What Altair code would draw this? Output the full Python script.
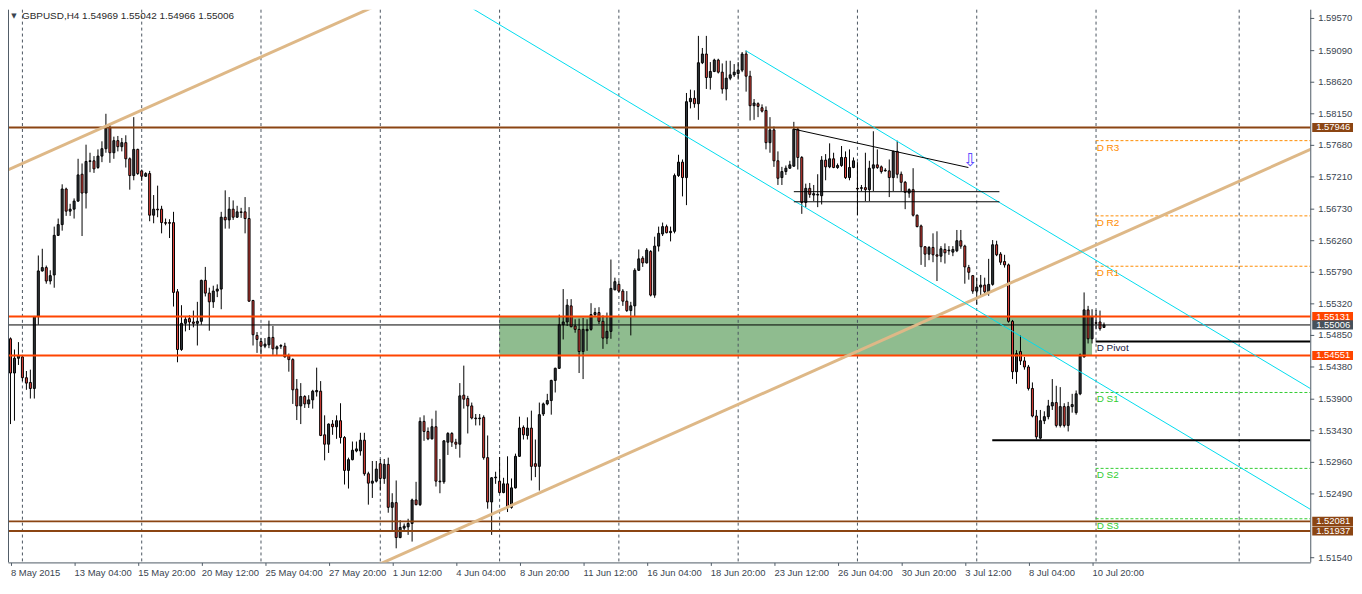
import altair as alt
import pandas as pd

# ---------------- data (H4 GBPUSD) ----------------
opens = [
1.5480,1.5429,1.5451,1.5453,1.5422,1.5415,1.5406,1.5513,1.5581,1.5586,
1.5566,1.5575,1.5634,1.5650,1.5703,1.5670,1.5673,1.5685,1.5725,1.5697,
1.5744,1.5745,1.5735,1.5752,1.5763,1.5795,1.5757,1.5775,1.5766,1.5772,
1.5748,1.5723,1.5762,1.5730,1.5722,1.5726,1.5664,1.5673,1.5673,1.5653,
1.5653,1.5653,1.5550,1.5464,1.5503,1.5510,1.5505,1.5503,1.5506,1.5567,
1.5548,1.5535,1.5551,1.5554,1.5661,1.5657,1.5673,1.5661,1.5669,1.5669,
1.5659,1.5537,1.5485,1.5476,1.5469,1.5471,1.5482,1.5465,1.5469,1.5469,
1.5455,1.5449,1.5405,1.5380,1.5394,1.5383,1.5389,1.5401,1.5402,1.5337,
1.5323,1.5353,1.5349,1.5358,1.5333,1.5284,1.5300,1.5313,1.5313,1.5329,
1.5279,1.5265,1.5268,1.5294,1.5272,1.5293,1.5229,1.5236,1.5184,1.5198,
1.5200,1.5205,1.5240,1.5233,1.5357,1.5342,1.5331,1.5349,1.5267,1.5267,
1.5326,1.5339,1.5326,1.5323,1.5396,1.5391,1.5380,1.5362,1.5361,1.5363,
1.5303,1.5237,1.5273,1.5268,1.5251,1.5264,1.5229,1.5258,1.5305,1.5348,
1.5336,1.5347,1.5294,1.5290,1.5368,1.5383,1.5388,1.5418,1.5436,1.5501,
1.5505,1.5529,1.5499,1.5494,1.5461,1.5492,1.5494,1.5516,1.5519,1.5506,
1.5481,1.5491,1.5553,1.5561,1.5551,1.5536,1.5522,1.5529,1.5582,1.5600,
1.5593,1.5610,1.5545,1.5618,1.5636,1.5647,1.5638,1.5640,1.5723,1.5743,
1.5720,1.5833,1.5838,1.5830,1.5891,1.5904,1.5869,1.5878,1.5895,1.5877,
1.5852,1.5868,1.5873,1.5875,1.5880,1.5904,1.5871,1.5827,1.5830,1.5824,
1.5820,1.5772,1.5791,1.5745,1.5720,1.5729,1.5734,1.5737,1.5792,1.5750,
1.5683,1.5704,1.5694,1.5694,1.5693,1.5746,1.5736,1.5748,1.5735,1.5738,
1.5750,1.5720,1.5735,1.5704,1.5704,1.5705,1.5702,1.5734,1.5739,1.5736,
1.5730,1.5730,1.5720,1.5759,1.5725,1.5713,1.5697,1.5702,1.5664,1.5648,
1.5617,1.5606,1.5616,1.5605,1.5603,1.5613,1.5611,1.5609,1.5611,1.5626,
1.5618,1.5586,1.5574,1.5551,1.5557,1.5560,1.5550,1.5561,1.5620,1.5606,
1.5595,1.5590,1.5506,1.5431,1.5461,1.5447,1.5438,1.5406,1.5365,1.5332,
1.5358,1.5364,1.5380,1.5385,1.5351,1.5379,1.5351,1.5379,1.5370,1.5398,
1.5453,1.5523,1.5480,1.5504,1.5505,1.54969]

highs = [
1.5482,1.5464,1.5475,1.5456,1.5432,1.5434,1.5514,1.5604,1.5614,1.5589,
1.5582,1.5647,1.5659,1.5710,1.5705,1.5681,1.5689,1.5748,1.5741,1.5769,
1.5757,1.5752,1.5762,1.5774,1.5815,1.5801,1.5781,1.5782,1.5779,1.5783,
1.5750,1.5810,1.5763,1.5732,1.5728,1.5730,1.5694,1.5708,1.5678,1.5659,
1.5658,1.5669,1.5554,1.5530,1.5514,1.5515,1.5522,1.5535,1.5568,1.5587,
1.5556,1.5559,1.5561,1.5669,1.5701,1.5691,1.5686,1.5678,1.5675,1.5691,
1.5676,1.5538,1.5490,1.5481,1.5481,1.5507,1.5499,1.5470,1.5472,1.5474,
1.5458,1.5451,1.5420,1.5414,1.5396,1.5396,1.5404,1.5437,1.5417,1.5366,
1.5354,1.5359,1.5366,1.5384,1.5335,1.5303,1.5327,1.5327,1.5340,1.5340,
1.5282,1.5298,1.5298,1.5301,1.5301,1.5303,1.5250,1.5269,1.5210,1.5205,
1.5212,1.5242,1.5267,1.5363,1.5366,1.5348,1.5361,1.5373,1.5301,1.5329,
1.5341,1.5341,1.5331,1.5414,1.5440,1.5395,1.5385,1.5368,1.5368,1.5366,
1.5336,1.5274,1.5282,1.5304,1.5273,1.5305,1.5272,1.5309,1.5364,1.5351,
1.5363,1.5373,1.5330,1.5385,1.5385,1.5398,1.5419,1.5437,1.5516,1.5554,
1.5539,1.5539,1.5509,1.5510,1.5511,1.5509,1.5533,1.5526,1.5527,1.5515,
1.5519,1.5598,1.5571,1.5566,1.5554,1.5551,1.5535,1.5585,1.5613,1.5603,
1.5615,1.5612,1.5632,1.5647,1.5653,1.5650,1.5647,1.5726,1.5754,1.5747,
1.5846,1.5851,1.5850,1.5931,1.5913,1.5931,1.5892,1.5897,1.5897,1.5890,
1.5894,1.5894,1.5889,1.5892,1.5907,1.5909,1.5879,1.5837,1.5832,1.5829,
1.5826,1.5810,1.5796,1.5759,1.5736,1.5738,1.5745,1.5803,1.5795,1.5752,
1.5711,1.5712,1.5709,1.5725,1.5752,1.5755,1.5771,1.5757,1.5741,1.5767,
1.5759,1.5762,1.5750,1.5743,1.5709,1.5757,1.5745,1.5789,1.5762,1.5738,
1.5734,1.5747,1.5760,1.5775,1.5729,1.5715,1.5704,1.5734,1.5665,1.5650,
1.5618,1.5618,1.5637,1.5640,1.5618,1.5622,1.5618,1.5618,1.5642,1.5642,
1.5620,1.5590,1.5575,1.5571,1.5575,1.5571,1.5599,1.5627,1.5626,1.5609,
1.5605,1.5592,1.5508,1.5463,1.5485,1.5453,1.5441,1.5415,1.5374,1.5374,
1.5372,1.5389,1.5420,1.5410,1.5408,1.5384,1.5386,1.5398,1.5403,1.5458,
1.5549,1.5529,1.5524,1.5523,1.5522,1.55042]

lows = [
1.5353,1.5358,1.5441,1.5417,1.5404,1.5391,1.5391,1.5501,1.5580,1.5562,
1.5561,1.5556,1.5633,1.5641,1.5663,1.5663,1.5659,1.5684,1.5633,1.5674,
1.5728,1.5727,1.5733,1.5743,1.5757,1.5742,1.5748,1.5759,1.5759,1.5735,
1.5702,1.5716,1.5724,1.5715,1.5721,1.5655,1.5652,1.5661,1.5637,1.5649,
1.5630,1.5528,1.5445,1.5462,1.5491,1.5493,1.5497,1.5470,1.5501,1.5543,
1.5492,1.5526,1.5542,1.5524,1.5644,1.5644,1.5657,1.5660,1.5660,1.5637,
1.5535,1.5470,1.5459,1.5457,1.5466,1.5466,1.5456,1.5455,1.5465,1.5452,
1.5431,1.5383,1.5359,1.5353,1.5377,1.5377,1.5376,1.5394,1.5335,1.5299,
1.5310,1.5337,1.5331,1.5324,1.5263,1.5257,1.5299,1.5311,1.5306,1.5276,
1.5233,1.5243,1.5266,1.5254,1.5264,1.5221,1.5195,1.5168,1.5183,1.5195,
1.5188,1.5178,1.5232,1.5231,1.5328,1.5329,1.5330,1.5260,1.5250,1.5264,
1.5307,1.5319,1.5316,1.5303,1.5376,1.5339,1.5360,1.5351,1.5351,1.5300,
1.5227,1.5188,1.5264,1.5250,1.5250,1.5222,1.5227,1.5257,1.5304,1.5330,
1.5330,1.5269,1.5274,1.5254,1.5365,1.5381,1.5367,1.5400,1.5435,1.5479,
1.5499,1.5497,1.5489,1.5429,1.5420,1.5462,1.5492,1.5514,1.5502,1.5465,
1.5472,1.5480,1.5552,1.5549,1.5529,1.5520,1.5485,1.5513,1.5581,1.5587,
1.5592,1.5543,1.5541,1.5610,1.5633,1.5637,1.5625,1.5637,1.5721,1.5692,
1.5679,1.5823,1.5824,1.5806,1.5889,1.5852,1.5851,1.5877,1.5875,1.5845,
1.5835,1.5865,1.5870,1.5866,1.5877,1.5848,1.5805,1.5806,1.5810,1.5817,
1.5762,1.5757,1.5736,1.5709,1.5709,1.5724,1.5733,1.5736,1.5732,1.5666,
1.5676,1.5690,1.5685,1.5676,1.5680,1.5716,1.5734,1.5734,1.5733,1.5736,
1.5718,1.5716,1.5734,1.5664,1.5700,1.5685,1.5685,1.5700,1.5733,1.5726,
1.5729,1.5691,1.5700,1.5719,1.5700,1.5673,1.5690,1.5662,1.5646,1.5590,
1.5587,1.5597,1.5594,1.5566,1.5594,1.5592,1.5605,1.5603,1.5609,1.5614,
1.5562,1.5568,1.5547,1.5531,1.5544,1.5547,1.5544,1.5559,1.5603,1.5590,
1.5586,1.5504,1.5420,1.5413,1.5441,1.5434,1.5403,1.5363,1.5330,1.5330,
1.5353,1.5360,1.5374,1.5348,1.5348,1.5348,1.5342,1.5370,1.5367,1.5396,
1.5452,1.5473,1.5473,1.5494,1.5492,1.54966]

closes = [
1.5429,1.5451,1.5455,1.5422,1.5414,1.5406,1.5513,1.5581,1.5586,1.5566,
1.5574,1.5634,1.5650,1.5703,1.5670,1.5673,1.5685,1.5724,1.5697,1.5744,
1.5745,1.5733,1.5752,1.5763,1.5795,1.5757,1.5775,1.5766,1.5772,1.5748,
1.5723,1.5762,1.5726,1.5722,1.5726,1.5664,1.5673,1.5672,1.5653,1.5652,
1.5652,1.5549,1.5464,1.5503,1.5509,1.5505,1.5503,1.5506,1.5567,1.5548,
1.5535,1.5551,1.5554,1.5661,1.5657,1.5673,1.5661,1.5669,1.5668,1.5659,
1.5536,1.5486,1.5479,1.5469,1.5472,1.5482,1.5465,1.5468,1.5470,1.5453,
1.5449,1.5404,1.5380,1.5394,1.5383,1.5389,1.5402,1.5403,1.5336,1.5323,
1.5353,1.5349,1.5358,1.5333,1.5284,1.5300,1.5314,1.5316,1.5329,1.5279,
1.5265,1.5268,1.5286,1.5272,1.5293,1.5229,1.5236,1.5184,1.5199,1.5201,
1.5205,1.5240,1.5233,1.5357,1.5342,1.5331,1.5349,1.5268,1.5268,1.5328,
1.5339,1.5326,1.5323,1.5395,1.5390,1.5380,1.5362,1.5361,1.5362,1.5303,
1.5237,1.5273,1.5274,1.5251,1.5264,1.5229,1.5258,1.5305,1.5347,1.5337,
1.5347,1.5290,1.5290,1.5367,1.5383,1.5388,1.5418,1.5436,1.5501,1.5505,
1.5530,1.5498,1.5494,1.5461,1.5494,1.5494,1.5516,1.5519,1.5506,1.5481,
1.5491,1.5555,1.5565,1.5551,1.5536,1.5522,1.5529,1.5582,1.5599,1.5593,
1.5612,1.5545,1.5618,1.5637,1.5647,1.5638,1.5640,1.5723,1.5743,1.5720,
1.5833,1.5838,1.5830,1.5891,1.5904,1.5869,1.5878,1.5895,1.5877,1.5852,
1.5868,1.5873,1.5877,1.5880,1.5904,1.5871,1.5827,1.5831,1.5826,1.5819,
1.5772,1.5791,1.5745,1.5719,1.5729,1.5734,1.5739,1.5792,1.5750,1.5683,
1.5704,1.5695,1.5696,1.5695,1.5746,1.5736,1.5748,1.5735,1.5738,1.5750,
1.5720,1.5735,1.5745,1.5703,1.5705,1.5702,1.5734,1.5739,1.5735,1.5729,
1.5731,1.5720,1.5759,1.5725,1.5713,1.5698,1.5702,1.5664,1.5647,1.5617,
1.5606,1.5616,1.5605,1.5603,1.5614,1.5608,1.5612,1.5613,1.5626,1.5618,
1.5587,1.5579,1.5551,1.5557,1.5560,1.5550,1.5561,1.5620,1.5605,1.5594,
1.5590,1.5506,1.5431,1.5458,1.5447,1.5438,1.5406,1.5365,1.5334,1.5358,
1.5364,1.5380,1.5385,1.5351,1.5379,1.5351,1.5379,1.5382,1.5398,1.5456,
1.5523,1.5480,1.5513,1.5503,1.5495,1.55006]

# time axis labels (every 16 H4 bars)
x_label_bars = [0, 16, 32, 48, 64, 80, 96, 112, 128, 144, 160, 176, 192, 208, 224, 240, 256, 272]
x_labels = ["8 May 2015", "13 May 04:00", "15 May 20:00", "20 May 12:00", "25 May 04:00",
            "27 May 20:00", "1 Jun 12:00", "4 Jun 04:00", "8 Jun 20:00", "11 Jun 12:00",
            "16 Jun 04:00", "18 Jun 20:00", "23 Jun 12:00", "26 Jun 04:00", "30 Jun 20:00",
            "3 Jul 12:00", "8 Jul 04:00", "10 Jul 20:00"]
y_ticks = [1.51540, 1.52490, 1.52960, 1.53430, 1.53900, 1.54380, 1.54850, 1.55320,
           1.55790, 1.56260, 1.56730, 1.57210, 1.57680, 1.58150, 1.58620, 1.59090, 1.59570]
week_bars = [3, 33, 63, 93, 123, 153, 183, 213, 243, 273, 309]

# horizontal levels
h_prices = [1.57946, 1.55131, 1.54551, 1.52081, 1.51937, 1.55006]
h_colors = ["#8b4513", "#ff4500", "#ff4500", "#8b4513", "#8b4513", "#000000"]
h_widths = [2, 2, 2, 2, 2, 1]

# highlighted price labels on the right axis
box_prices = [1.57946, 1.55131, 1.55006, 1.54551, 1.52081, 1.51937]
box_colors = ["#8b4513", "#ff4500", "#46515b", "#ff4500", "#8b4513", "#8b4513"]

# supply/demand zone
zone_bar_start, zone_bar_end = 122.9, 272.0
zone_low, zone_high = 1.54551, 1.55131

# daily pivots
pivot_names = ["D R3", "D R2", "D R1", "D S1", "D S2", "D S3"]
pivot_levels = [1.5775, 1.5663, 1.5588, 1.5400, 1.5287, 1.5212]
pivot_colors = ["#ff8c00", "#ff8c00", "#ff8c00", "#32cd32", "#32cd32", "#32cd32"]
pivot_main = 1.5476
pivot_start = 272.9

# trend lines (bar index, price)
tan_x1 = [-2, 90];   tan_y1 = [1.5728, 1.5137]
tan_x2 = [95, 330];  tan_y2 = [1.5984, 1.5770]
cyan_x1 = [113, 184.9];  cyan_y1 = [1.5983, 1.5909]
cyan_x2 = [330, 330];    cyan_y2 = [1.5215, 1.5395]
blk_x1 = [246.9, 197.0, 197.0, 197.1, 272.9]
blk_y1 = [1.5329, 1.5699, 1.5684, 1.5792, 1.5476]
blk_x2 = [330, 248.7, 248.7, 240.9, 330]
blk_y2 = [1.5329, 1.5699, 1.5684, 1.5735, 1.5476]
blk_w = [2, 1, 1, 1, 2]

arrow_bar, arrow_price = 241.4, 1.5745
header = "GBPUSD,H4  1.54969 1.55042 1.54966 1.55006"

# ---------------- chart ----------------
FONT = "Liberation Sans"
W, H = 1310, 556
AX = "#4f5b66"
LBL = "#3a4550"
xs = alt.Scale(domain=[-0.625, 326.875], nice=False, zero=False)
ys = alt.Scale(domain=[1.5147, 1.5970], nice=False, zero=False)

label_expr = " : ".join(f"datum.value == {b} ? '{t}'" for b, t in zip(x_label_bars, x_labels)) + " : ''"

x_axis = alt.Axis(values=x_label_bars, labelExpr=label_expr, title=None, grid=False,
                  labelAlign="left", labelFlush=False, labelOverlap=False, labelFont=FONT,
                  labelFontSize=9.5, labelColor=LBL, tickSize=3, tickColor=AX,
                  domainColor=AX, labelPadding=2)


def Y(field):
    return alt.Y(field, scale=ys, axis=None)


candles = pd.DataFrame({"bar": list(range(len(opens))), "open": opens, "high": highs,
                        "low": lows, "close": closes})

zone = alt.Chart(pd.DataFrame({"a": [zone_bar_start], "b": [zone_bar_end],
                               "lo": [zone_low], "hi": [zone_high]})).mark_rect(
    color="#8fbc8f").encode(
    x=alt.X("a:Q", scale=xs, axis=x_axis), x2="b:Q",
    y=Y("lo:Q"), y2="hi:Q")

grid = alt.Chart(pd.DataFrame({"bar": week_bars})).mark_rule(
    color="#4b5560", strokeWidth=1, strokeDash=[3, 3]).encode(
    x=alt.X("bar:Q", scale=xs))

wicks = alt.Chart(candles).mark_rule(color="#000000", strokeWidth=1).encode(
    x=alt.X("bar:Q", scale=xs), y=Y("low:Q"), y2="high:Q")

bodies = alt.Chart(candles).transform_calculate(
    x1="datum.bar - 0.25", x2="datum.bar + 0.25",
    fc="datum.close >= datum.open ? '#30363c' : '#e2423a'"
).mark_rect(stroke="#000000", strokeWidth=1).encode(
    x=alt.X("x1:Q", scale=xs), x2="x2:Q",
    y=Y("open:Q"), y2="close:Q",
    fill=alt.Fill("fc:N", scale=None))

hlines = alt.Chart(pd.DataFrame({"p": h_prices, "c": h_colors, "w": h_widths})).mark_rule().encode(
    y=Y("p:Q"),
    color=alt.Color("c:N", scale=None),
    strokeWidth=alt.StrokeWidth("w:Q", scale=None))

piv_df = pd.DataFrame({"name": pivot_names, "p": pivot_levels, "c": pivot_colors,
                       "s": [pivot_start] * len(pivot_names), "e": [330] * len(pivot_names)})
piv_lines = alt.Chart(piv_df).mark_rule(strokeWidth=1, strokeDash=[3, 2], clip=True).encode(
    x=alt.X("s:Q", scale=xs), x2="e:Q", y=Y("p:Q"),
    color=alt.Color("c:N", scale=None))

lab_df = pd.DataFrame({"name": pivot_names + ["D Pivot"], "p": pivot_levels + [pivot_main],
                       "c": pivot_colors + ["#14143a"], "s": [pivot_start] * 7})
piv_labels = alt.Chart(lab_df).mark_text(align="left", baseline="top", dx=1, dy=2,
                                          font=FONT, fontSize=10).encode(
    x=alt.X("s:Q", scale=xs), y=Y("p:Q"),
    text="name:N", color=alt.Color("c:N", scale=None))

tan = alt.Chart(pd.DataFrame({"x1": tan_x1, "y1": tan_y1, "x2": tan_x2, "y2": tan_y2})).mark_rule(
    color="#deb887", strokeWidth=3, clip=True).encode(
    x=alt.X("x1:Q", scale=xs), y=Y("y1:Q"), x2="x2:Q", y2="y2:Q")

cyan = alt.Chart(pd.DataFrame({"x1": cyan_x1, "y1": cyan_y1, "x2": cyan_x2, "y2": cyan_y2})).mark_rule(
    color="#00dcee", strokeWidth=1, clip=True).encode(
    x=alt.X("x1:Q", scale=xs), y=Y("y1:Q"), x2="x2:Q", y2="y2:Q")

blk = alt.Chart(pd.DataFrame({"x1": blk_x1, "y1": blk_y1, "x2": blk_x2, "y2": blk_y2,
                              "w": blk_w})).mark_rule(color="#000000", clip=True).encode(
    x=alt.X("x1:Q", scale=xs), y=Y("y1:Q"), x2="x2:Q", y2="y2:Q",
    strokeWidth=alt.StrokeWidth("w:Q", scale=None))

arrow = alt.Chart(pd.DataFrame({"b": [arrow_bar], "p": [arrow_price], "t": ["⇩"]})).mark_text(
    font="DejaVu Sans", fontSize=18, color="#5a4cff", baseline="middle", align="center").encode(
    x=alt.X("b:Q", scale=xs), y=Y("p:Q"), text="t:N")

# right price scale drawn by hand (every label shown, like MT4)
ytick_df = pd.DataFrame({"p": y_ticks, "t": [f"{v:.5f}" for v in y_ticks]})
y_tick_marks = alt.Chart(ytick_df).mark_rule(color=AX, strokeWidth=1).encode(
    x=alt.value(W), x2=alt.value(W + 4), y=Y("p:Q"))
y_tick_text = alt.Chart(ytick_df).mark_text(align="left", baseline="middle", font=FONT,
                                             fontSize=9.5, color=LBL).encode(
    x=alt.value(W + 8), y=Y("p:Q"), text="t:N")
y_domain = alt.Chart(pd.DataFrame({"k": [0]})).mark_rule(color=AX, strokeWidth=1).encode(
    x=alt.value(W + 0.5), y=alt.value(0), y2=alt.value(H))

box_df = pd.DataFrame({"p": box_prices, "c": box_colors, "t": [f"{v:.5f}" for v in box_prices]})
boxes = alt.Chart(box_df).transform_calculate(
    b1="datum.p - 0.00068", b2="datum.p + 0.00068").mark_rect().encode(
    x=alt.value(W + 2), x2=alt.value(W + 43),
    y=Y("b1:Q"), y2="b2:Q",
    color=alt.Color("c:N", scale=None))
box_text = alt.Chart(box_df).mark_text(align="left", baseline="middle", font=FONT,
                                       fontSize=9.5, color="#ffffff").encode(
    x=alt.value(W + 6), y=Y("p:Q"), text="t:N")

head = alt.Chart(pd.DataFrame({"t": [header]})).mark_text(
    align="left", baseline="middle", font=FONT, fontSize=10, color="#2a2a2a").encode(
    x=alt.value(14), y=alt.value(6), text="t:N")
tri = alt.Chart(pd.DataFrame({"t": ["▼"]})).mark_text(
    align="center", baseline="middle", font="DejaVu Sans", fontSize=7, color=LBL).encode(
    x=alt.value(6), y=alt.value(6), text="t:N")

left_border = alt.Chart(pd.DataFrame({"k": [0]})).mark_rule(color=AX, strokeWidth=1).encode(
    x=alt.value(0.5), y=alt.value(0), y2=alt.value(H))

chart = alt.layer(
    zone, grid, wicks, bodies, hlines, piv_lines, tan, cyan, blk,
    piv_labels, arrow, y_tick_marks, y_tick_text, y_domain, boxes, box_text,
    head, tri, left_border
).properties(
    width=W, height=H,
    autosize=alt.AutoSizeParams(type="none"),
    padding={"left": 0, "top": 0, "right": 44, "bottom": 18},
    background="#ffffff"
).configure_view(strokeWidth=0)

chart.save("out.html", embed_options={"renderer": "svg", "actions": False})
